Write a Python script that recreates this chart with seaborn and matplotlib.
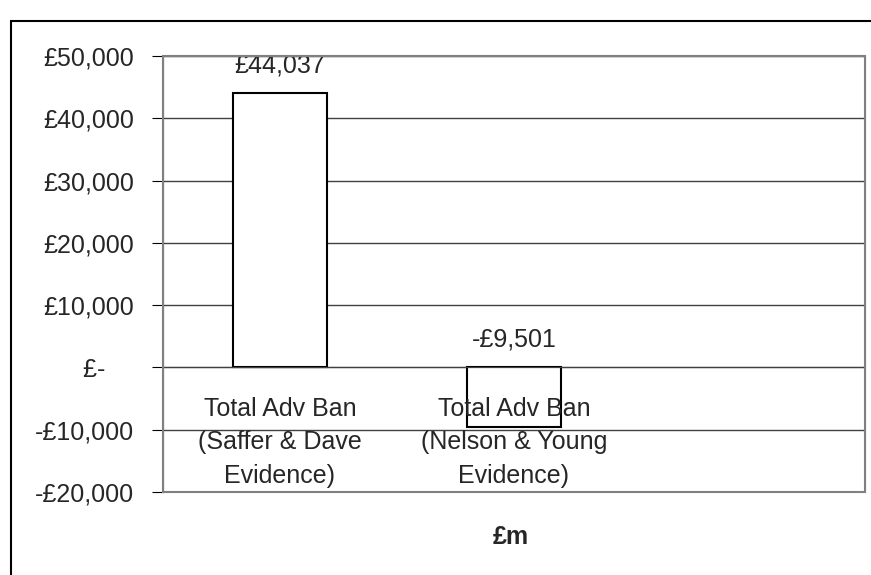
import pandas as pd
import matplotlib.pyplot as plt
import seaborn as sns
from matplotlib.patches import Rectangle

# data
categorias = ['Total Adv Ban\n(Saffer & Dave\nEvidence)',
              'Total Adv Ban\n(Nelson & Young\nEvidence)']
valores = [44037, -9501]
rotulos = ['£44,037', '-£9,501']
y_ticks = [-20000, -10000, 0, 10000, 20000, 30000, 40000, 50000]
y_rotulos = ['-£20,000', '-£10,000', '£-    ', '£10,000', '£20,000',
             '£30,000', '£40,000', '£50,000']

df = pd.DataFrame({'cat': categorias, 'valor': valores})

sns.set_style('white')
plt.rcParams['font.family'] = ['Liberation Sans', 'DejaVu Sans']

fig = plt.figure(figsize=(8.71, 5.75), dpi=100)
ax = fig.add_axes([0.187, 0.1443, 0.806, 0.7583])

sns.barplot(data=df, x='cat', y='valor', color='white', edgecolor='black',
            linewidth=1.5, width=0.4, ax=ax, zorder=2)

ax.set_xlim(-0.5, 2.5)
ax.set_ylim(-20000, 50000)
ax.set_yticks(y_ticks)
ax.set_yticklabels(y_rotulos, fontsize=18)
ax.yaxis.grid(True, color='#404040', linewidth=1)
ax.set_axisbelow(True)
ax.xaxis.set_zorder(4)  # rótulos das categorias por cima das barras

# eixo x cruzando no zero
ax.spines['bottom'].set_position(('data', 0))
ax.spines['bottom'].set_color('#404040')
ax.spines['left'].set_color('black')
ax.spines['top'].set_color('#808080')
ax.spines['right'].set_color('#808080')
ax.add_patch(Rectangle((0, 0), 1, 1, transform=ax.transAxes, fill=False,
                       edgecolor='#808080', linewidth=1.5, zorder=5, clip_on=False))

ax.set_xticks([0, 1, 2])
ax.set_xticklabels(categorias + [''], fontsize=18, linespacing=1.5)
ax.set_xticks([-0.5, 0.5, 1.5, 2.5], minor=True)
ax.tick_params(axis='x', which='major', length=0, pad=21)
ax.tick_params(axis='x', which='minor', length=7, direction='out', color='#404040')
ax.tick_params(axis='y', which='major', length=8, direction='out', color='black',
               left=True, pad=13)

for i, (v, r) in enumerate(zip(valores, rotulos)):
    ax.annotate(r, (i, max(v, 0)), xytext=(0, 15), textcoords='offset points',
                ha='center', va='baseline', fontsize=18)

ax.set_ylabel('')
ax.set_xlabel('')
fig.text(0.587, 0.066, '£m', ha='center', va='center', fontsize=18, fontweight='bold')

# moldura do gráfico
fig.patches.append(Rectangle((11 / 871, -0.1), 1.1, 0.1 + 1 - 21 / 575,
                             transform=fig.transFigure, fill=False,
                             edgecolor='black', linewidth=1.5))

fig.savefig('out.png', dpi=100)
